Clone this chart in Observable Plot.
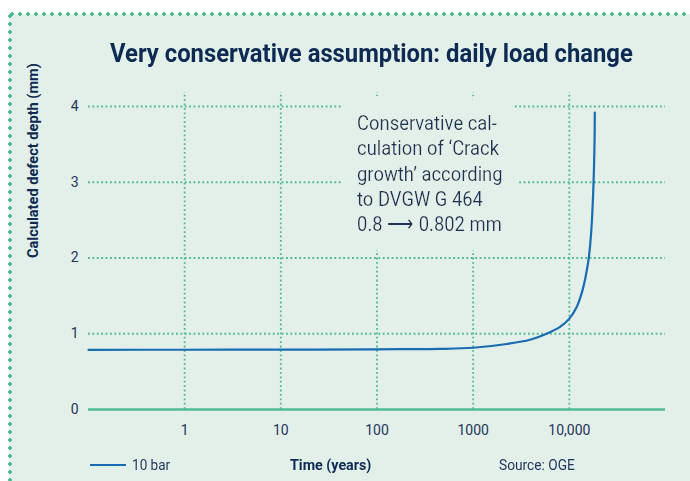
<!DOCTYPE html>
<html><head><meta charset="utf-8">
<script src="https://cdn.jsdelivr.net/npm/d3@7"></script>
<script src="https://cdn.jsdelivr.net/npm/@observablehq/plot@0.6"></script>
<style>
html,body{margin:0;padding:0;background:#fff;}
#wrap{position:relative;width:690px;height:481px;overflow:hidden;font-family:Roboto,"Liberation Sans",sans-serif;}
#panel{position:absolute;left:9px;top:14px;right:0;bottom:0;background:#e3efe9;}
#dotsTop{position:absolute;left:8px;top:12px;right:0;height:4px;background:radial-gradient(circle,#43bb8c 1.5px,transparent 2px) 0 0/8px 4px repeat-x;}
#dotsLeft{position:absolute;left:8px;top:12px;bottom:0;width:4px;background:radial-gradient(circle,#43bb8c 1.5px,transparent 2px) 0 0/4px 8px repeat-y;}
.txt{position:absolute;white-space:nowrap;line-height:1;transform-origin:0 50%;}
#title{top:40px;font-size:26px;font-weight:700;color:#0c2a52;}
.foot{top:458px;font-size:15px;color:#1f3559;}
#chart{position:absolute;left:0;top:80px;}
#swatch{position:absolute;left:90px;top:464px;width:36px;height:0;border-top:2.5px solid #1a6cb2;}
</style>
</head><body>
<div id="wrap">
  <div id="panel"></div>
  <div id="dotsTop"></div>
  <div id="dotsLeft"></div>
  <div id="chart"></div>
  <div id="title" class="txt"></div>
  <div id="swatch"></div>
  <div id="legendText" class="txt foot"></div>
  <div id="xLabel" class="txt foot" style="font-weight:700;color:#0c2a52"></div>
  <div id="source" class="txt foot"></div>
</div>
<script>
// ---- data ----
const years = [0.1, 1, 10, 100, 457, 1000, 2240, 3900, 5800, 8000, 10000, 11900, 13400, 14750, 15960, 17000, 17860, 18290, 18410];
const depth = [0.788, 0.789, 0.79, 0.795, 0.80, 0.815, 0.865, 0.92, 1.0, 1.09, 1.2, 1.35, 1.53, 1.75, 2.01, 2.40, 3.0, 3.55, 3.92];
const xTicks = [1, 10, 100, 1000, 10000];
const yTicks = [0, 1, 2, 3, 4];
const gridY = [1, 2, 3, 4];
const seriesName = "10 bar";
const titleText = "Very conservative assumption: daily load change";
const xLabelText = "Time (years)";
const yLabelText = "Calculated defect depth (mm)";
const sourceText = "Source: OGE";
const noteLines = ["Conservative cal-", "culation of \u2018Crack", "growth\u2019 according", "to DVGW G 464", "0.8 \u27f6 0.802 mm"];

const data = years.map((y, i) => ({years: y, depth: depth[i]}));
const note = [noteLines.join("\n")];
const bg = "#e3efe9";
const green = "#4cbb8f";
const blue = "#1a6cb2";
const ink = "#1f3559";

const chart = Plot.plot({
  width: 690,
  height: 401,
  marginLeft: 88,
  marginRight: 25,
  marginTop: 26,
  marginBottom: 72,
  style: {background: "transparent", fontFamily: "Roboto, 'Liberation Sans', sans-serif", color: ink, overflow: "visible"},
  x: {type: "log", domain: [0.1, 100000]},
  y: {domain: [0, 4]},
  marks: [
    Plot.ruleY(gridY, {stroke: green, strokeWidth: 1.8, strokeDasharray: "1.8,2.6"}),
    Plot.ruleX(xTicks, {y1: 0, y2: 4.185, stroke: green, strokeWidth: 1.8, strokeDasharray: "1.8,2.6"}),
    Plot.ruleY([0], {stroke: "#52bd92", strokeWidth: 2.5}),
    Plot.text(note, {x: 62, y: 3.93, text: d => d, textAnchor: "start", lineAnchor: "top", lineHeight: 1.21, fontSize: 21, fill: "#1e3358"}),
    Plot.line(data, {x: "years", y: "depth", stroke: blue, strokeWidth: 2.2, curve: "catmull-rom"}),
    Plot.axisY({ticks: yTicks, tickSize: 0, tickPadding: 10, fontSize: 14, label: null, tickFormat: d => String(d)}),
    Plot.axisX({ticks: xTicks, tickSize: 0, tickPadding: 16, fontSize: 14, label: null, tickFormat: d => d >= 10000 ? d3.format(",")(d) : String(d)}),
    Plot.text([yLabelText], {frameAnchor: "left", dx: -55, rotate: -90, text: d => d, fontSize: 15, fontWeight: "bold", fill: "#0c2a52"})
  ]
});
document.getElementById("chart").appendChild(chart);

// halo filter: dilated background-coloured block behind the note, hiding the grid there
const defs = d3.select(chart).insert("defs", ":first-child");
const f = defs.append("filter").attr("id", "noteHalo")
  .attr("x", "-40%").attr("y", "-40%").attr("width", "180%").attr("height", "180%");
f.append("feMorphology").attr("in", "SourceAlpha").attr("operator", "dilate").attr("radius", "18 19").attr("result", "d");
f.append("feFlood").attr("flood-color", bg).attr("result", "c");
f.append("feComposite").attr("in", "c").attr("in2", "d").attr("operator", "in").attr("result", "h");
const m = f.append("feMerge");
m.append("feMergeNode").attr("in", "h");
m.append("feMergeNode").attr("in", "SourceGraphic");

function squeeze(t, s) {
  const tr = t.getAttribute("transform");
  if (tr) t.setAttribute("transform", tr + ` scale(${s},1)`);
  else {
    const x = +t.getAttribute("x") || 0;
    t.setAttribute("transform", `translate(${x},0) scale(${s},1) translate(${-x},0)`);
  }
}
d3.select(chart).selectAll("text").each(function() {
  const txt = this.textContent;
  if (txt === yLabelText) {
    squeeze(this, 195 / this.getComputedTextLength());
  } else if (txt.startsWith("Conservative")) {
    const first = this.querySelector("tspan");
    const w = first ? first.getComputedTextLength() : this.getBBox().width;
    squeeze(this, 140 / w);
    this.setAttribute("filter", "url(#noteHalo)");
  }
});

function fit(id, text, x0, width) {
  const el = document.getElementById(id);
  el.textContent = text;
  const w = el.offsetWidth;
  el.style.left = x0 + "px";
  el.style.transform = `scaleX(${width / w})`;
}
fit("title", titleText, 110, 523);
fit("legendText", seriesName, 132, 38);
fit("xLabel", xLabelText, 290, 81);
fit("source", sourceText, 499, 76);
</script>
</body></html>
